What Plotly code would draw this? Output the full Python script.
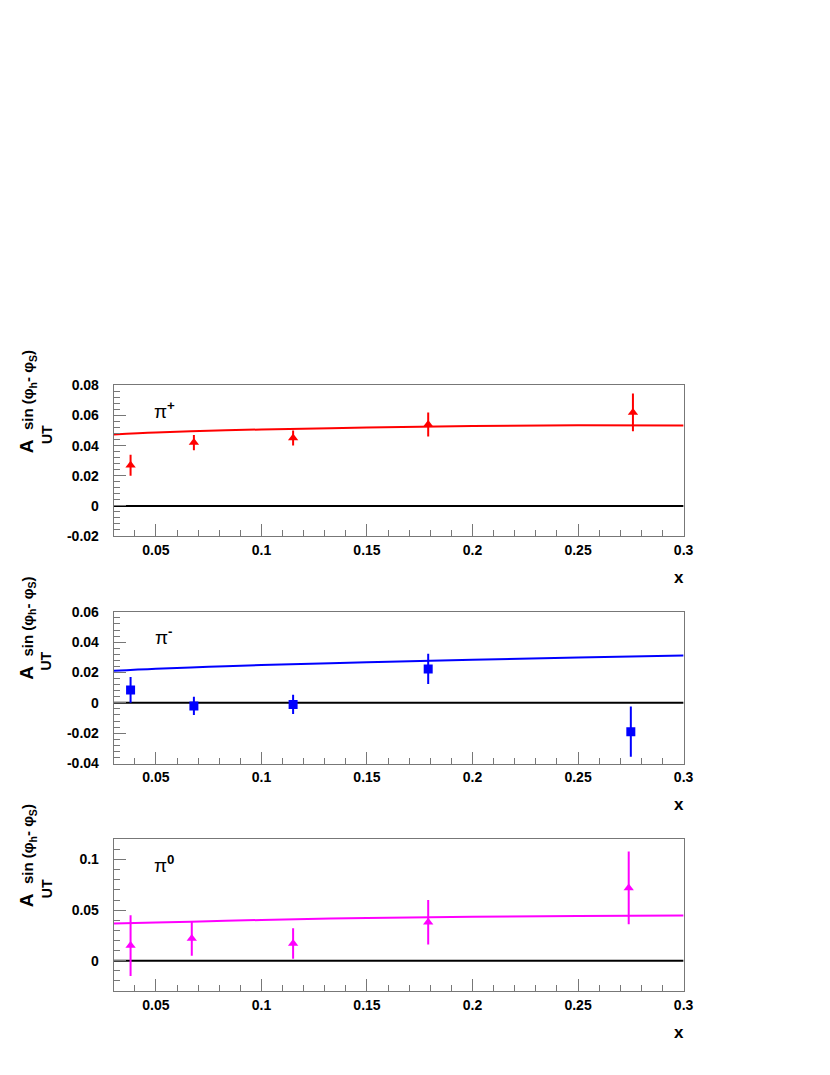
import plotly.graph_objects as go

# data points (x, asymmetry, stat. error) for each pion
x_pip = [0.038, 0.068, 0.115, 0.179, 0.276]
a_pip = [0.027, 0.042, 0.045, 0.054, 0.062]
e_pip = [0.007, 0.005, 0.005, 0.008, 0.0125]

x_pim = [0.038, 0.068, 0.115, 0.179, 0.275]
a_pim = [0.0085, -0.002, -0.001, 0.0224, -0.019]
e_pim = [0.0085, 0.006, 0.0063, 0.010, 0.0166]

x_pi0 = [0.038, 0.067, 0.115, 0.179, 0.274]
a_pi0 = [0.015, 0.022, 0.017, 0.038, 0.072]
e_pi0 = [0.030, 0.017, 0.015, 0.022, 0.036]

# model curves
x_curve = [0.03, 0.05, 0.075, 0.1, 0.15, 0.2, 0.25, 0.3]
c_pip = [0.0474, 0.0487, 0.0498, 0.0507, 0.0520, 0.0530, 0.0535, 0.0533]
c_pim = [0.0211, 0.0225, 0.0238, 0.0249, 0.0267, 0.0284, 0.0299, 0.0312]
c_pi0 = [0.0367, 0.0378, 0.0390, 0.0403, 0.0423, 0.0435, 0.0443, 0.0448]

x_ticks = [0.05, 0.1, 0.15, 0.2, 0.25, 0.3]
x_ticktext = ["0.05", "0.1", "0.15", "0.2", "0.25", "0.3"]

# browser body margin of 8px sits around the figure
PAD = 8
W, H = 830 - 2 * PAD, 1075 - 2 * PAD
FONT = "Liberation Sans"
GREY = "#777777"

# pixel boxes (page coords) of the three frames: left, right, top, bottom
boxes = [(115, 692, 383, 536), (115, 692, 613, 767), (115, 692, 844, 998)]

panels = [
    dict(x=x_pip, y=a_pip, e=e_pip, c=c_pip, col="#ff0000", sym="triangle-up",
         yr=[-0.02, 0.08], mdt=0.004, label="π<sup><b>+</b></sup>",
         yticks=[-0.02, 0, 0.02, 0.04, 0.06, 0.08],
         ytext=["-0.02", "0", "0.02", "0.04", "0.06", "0.08"]),
    dict(x=x_pim, y=a_pim, e=e_pim, c=c_pim, col="#0000ff", sym="square",
         yr=[-0.04, 0.06], mdt=0.004, label="π<sup><b>-</b></sup>",
         yticks=[-0.04, -0.02, 0, 0.02, 0.04, 0.06],
         ytext=["-0.04", "-0.02", "0", "0.02", "0.04", "0.06"]),
    dict(x=x_pi0, y=a_pi0, e=e_pi0, c=c_pi0, col="#ff00ff", sym="triangle-up",
         yr=[-0.03, 0.12], mdt=0.01, label="π<sup><b>0</b></sup>",
         yticks=[0, 0.05, 0.1],
         ytext=["0", "0.05", "0.1"]),
]

fig = go.Figure()
annotations = []
layout = dict(width=W, height=H, margin=dict(l=0, r=0, t=0, b=0),
              plot_bgcolor="white", paper_bgcolor="white", showlegend=False)


def px(v):
    return (v - PAD) / W


def py(v):
    return 1 - (v - PAD) / H


def note(x, y, text, size, angle=0):
    return dict(xref="paper", yref="paper", x=px(x), y=py(y), text=text,
                showarrow=False, textangle=angle, xanchor="center", yanchor="middle",
                font=dict(family=FONT, size=size, color="black"))


for i, (p, b) in enumerate(zip(panels, boxes)):
    n = "" if i == 0 else str(i + 1)
    xa, ya = "x" + n, "y" + n
    l, r, t, btm = b

    # zero line
    fig.add_trace(go.Scatter(x=[0.03, 0.3], y=[0, 0], mode="lines",
                             line=dict(color="black", width=2),
                             xaxis=xa, yaxis=ya, hoverinfo="skip"))
    # model curve
    fig.add_trace(go.Scatter(x=x_curve, y=p["c"], mode="lines",
                             line=dict(color=p["col"], width=2, shape="spline"),
                             xaxis=xa, yaxis=ya))
    # data
    fig.add_trace(go.Scatter(x=p["x"], y=p["y"], mode="markers",
                             marker=dict(symbol=p["sym"], size=9, color=p["col"]),
                             error_y=dict(type="data", array=p["e"], color=p["col"],
                                          thickness=2, width=0),
                             xaxis=xa, yaxis=ya))

    layout["xaxis" + n] = dict(
        domain=[px(l), px(r)], range=[0.03, 0.3], anchor=ya,
        showgrid=False, zeroline=False, showline=True, mirror=True,
        linecolor=GREY, linewidth=1,
        ticks="inside", ticklen=12, tickcolor=GREY, tickwidth=1,
        tickvals=x_ticks, ticktext=x_ticktext, ticklabelstandoff=1,
        tickfont=dict(family=FONT, size=14, color="black", weight="bold"),
        minor=dict(dtick=0.01, tick0=0, ticks="inside", ticklen=6,
                   tickcolor=GREY, showgrid=False),
    )
    layout["yaxis" + n] = dict(
        domain=[py(btm), py(t)], range=p["yr"], anchor=xa,
        showgrid=False, zeroline=False, showline=True, mirror=True,
        linecolor=GREY, linewidth=1,
        ticks="inside", ticklen=12, tickcolor=GREY, tickwidth=1,
        tickvals=p["yticks"], ticktext=p["ytext"], ticklabelstandoff=11,
        tickfont=dict(family=FONT, size=14, color="black", weight="bold"),
        minor=dict(dtick=p["mdt"], tick0=0, ticks="inside", ticklen=6,
                   tickcolor=GREY, showgrid=False),
    )

    # pion label
    annotations.append(note(166, t + 25, p["label"], 19))
    # x title
    annotations.append(note(687, btm + 42, "<b>x</b>", 17))
    # y title pieces
    annotations.append(note(27, t + 62, "<b>A</b>", 19, -90))
    annotations.append(note(29, t + 5, "<b>sin (φ<sub>h</sub>- φ<sub>S</sub>)</b>", 15, -90))
    annotations.append(note(47, t + 50, "<b>UT</b>", 14, -90))

layout["annotations"] = annotations
fig.update_layout(**layout)
fig.write_html("out.html", config={"displayModeBar": False})
